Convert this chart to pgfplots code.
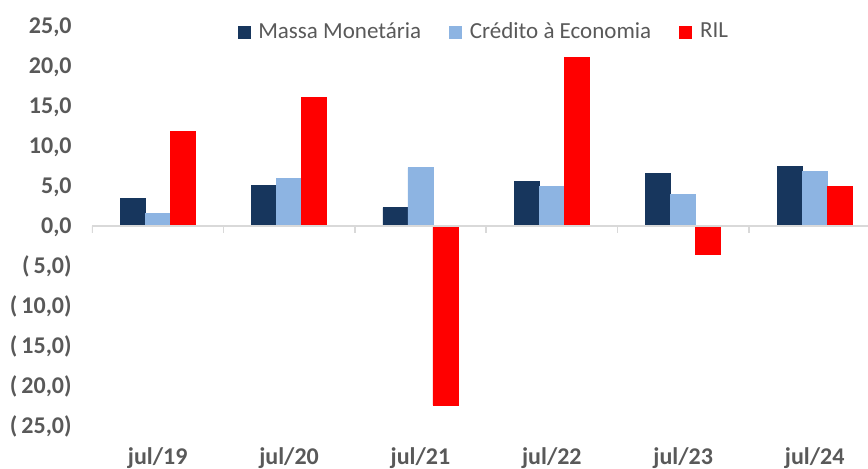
\documentclass[border=0pt]{standalone}
\usepackage{pgfplots}
\pgfplotsset{compat=1.18}
\usepackage{fontspec}
\setmainfont{Carlito}
\definecolor{massa}{HTML}{17365D}
\definecolor{cred}{HTML}{8DB4E2}
\definecolor{ril}{HTML}{FF0000}
\definecolor{lbl}{HTML}{595959}
\definecolor{axl}{HTML}{D9D9D9}
\begin{document}
\begin{tikzpicture}
\useasboundingbox (0,0) rectangle (434pt,234pt);
\begin{axis}[
 at={(46pt,21pt)}, anchor=south west,
 scale only axis, width=388pt, height=200pt,
 xmin=-0.5, xmax=5.406, ymin=-25, ymax=25,
 enlargelimits=false,
 ybar=0pt, bar width=12.5pt,
 axis line style={draw=none},
 major tick length=0pt,
 xtick={0,...,5},
 xticklabels={jul/19,jul/20,jul/21,jul/22,jul/23,jul/24},
 ytick={-25,-20,...,25},
 yticklabels={{(\,25,0)},{(\,20,0)},{(\,15,0)},{(\,10,0)},{(\,5,0)},{0,0},{5,0},{10,0},{15,0},{20,0},{25,0}},
 ticklabel style={font=\bfseries\fontsize{12}{14}\selectfont, text=lbl, inner sep=0pt},
 xticklabel style={anchor=north, yshift=-10.5pt},
 yticklabel style={anchor=base east, xshift=-10pt, yshift=-3.8pt},
 legend columns=3,
 legend style={draw=none, fill=none, at={(0.187,0.985)}, anchor=west, inner sep=0pt,
   font=\fontsize{11.5}{13}\selectfont, text=lbl,
   nodes={inner sep=0pt},
   /tikz/every odd column/.append style={column sep=4pt},
   /tikz/every even column/.append style={column sep=14pt}},
 legend image code/.code={\fill[#1] (0pt,-3pt) rectangle (6pt,3pt);},
]
\addplot[fill=massa, draw=massa] coordinates {(0,3.5)(1,5.1)(2,2.3)(3,5.6)(4,6.6)(5,7.5)};
\addplot[fill=cred, draw=cred] coordinates {(0,1.6)(1,5.9)(2,7.3)(3,4.9)(4,4.0)(5,6.8)};
\addplot[fill=ril, draw=ril] coordinates {(0,11.8)(1,16.1)(2,-22.4)(3,21.1)(4,-3.6)(5,5.0)};
\legend{Massa Monetária, Crédito à Economia, RIL}
\draw[axl, line width=0.75pt] (axis cs:-0.5,0) -- (axis cs:5.406,0);
\pgfplotsinvokeforeach{-0.5,0.5,1.5,2.5,3.5,4.5}{\draw[axl, line width=0.75pt] (axis cs:#1,0) -- ([yshift=-3.5pt]axis cs:#1,0);}
\end{axis}
\end{tikzpicture}
\end{document}
